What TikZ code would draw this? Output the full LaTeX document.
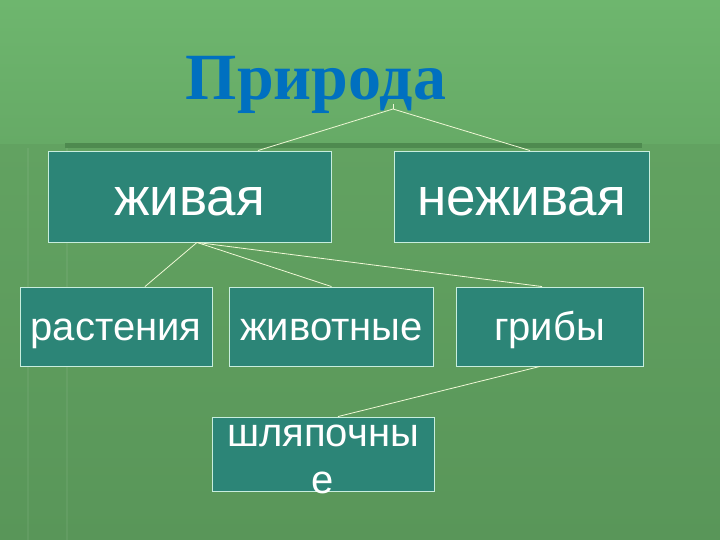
\documentclass[tikz,border=0pt]{standalone}
\usepackage{fontspec}
\setmainfont{Liberation Sans}
\newfontfamily\titlefont{Liberation Serif}
\usetikzlibrary{calc}

\definecolor{bgtop}{RGB}{110,182,110}
\definecolor{bgmid}{RGB}{102,170,102}
\definecolor{bglow}{RGB}{98,162,97}
\definecolor{bgbottom}{RGB}{89,150,89}
\definecolor{bandgreen}{RGB}{78,138,79}
\definecolor{boxteal}{RGB}{44,133,119}
\definecolor{boxedge}{RGB}{200,238,222}
\definecolor{linecream}{RGB}{240,248,214}
\definecolor{titleblue}{RGB}{0,112,192}

\begin{document}
\begin{tikzpicture}[
    x=1pt, y=-1pt,
  catbox/.style={rectangle, draw=boxedge, line width=0.9pt, fill=boxteal, text=white, inner sep=0pt, text depth=0pt},
  bigbox/.style={catbox, font=\fontsize{53}{58}\selectfont, text height=37pt},
  smallbox/.style={catbox, font=\fontsize{40}{45}\selectfont, text height=27pt},
  link/.style={draw=linecream, line width=0.8pt}
]

% Background
\useasboundingbox (0,0) rectangle (720,540);
\shade[top color=bgtop, bottom color=bgmid] (0,0) rectangle (720,145);
\shade[top color=bglow, bottom color=bgbottom] (0,145) rectangle (720,540);
\fill[bandgreen] (65,143) rectangle (642,148);
\draw[white, opacity=0.06, line width=2pt] (28,148) -- (28,540);
\draw[white, opacity=0.06, line width=2pt] (67,148) -- (67,540);

% Title
\node[font=\titlefont\bfseries\fontsize{66}{72}\selectfont, text=titleblue, anchor=base] (priroda) at (316,100) {Природа};
\coordinate (apex) at (393,109);
\draw[link] (393,104) -- (apex);

% Boxes
\node[bigbox, minimum width=283, minimum height=91] (zhivaya) at (189.5,196.5) {живая};
\node[bigbox, minimum width=255, minimum height=91] (nezhivaya) at (521.5,196.5) {неживая};
\node[smallbox, minimum width=192, minimum height=79] (rasteniya) at (116,326.5) {растения};
\node[smallbox, minimum width=204, minimum height=79] (zhivotnye) at (331.5,326.5) {животные};
\node[smallbox, minimum width=187, minimum height=79] (griby) at (549.5,326.5) {грибы};
\node[smallbox, minimum width=222, minimum height=74] (shlyapochnye) at (323,454) {};
\node[font=\fontsize{40}{47}\selectfont, text=white, align=center, anchor=north] (shlyaptext) at (323,421) {шляпочны\\е};

% Links
\draw[link] (apex) -- (zhivaya.north -| 258,0);
\draw[link] (apex) -- (nezhivaya.north -| 530,0);
\draw[link] (zhivaya.south -| 197,0) -- (rasteniya.north -| 145,0);
\draw[link] (zhivaya.south -| 197,0) -- (zhivotnye.north);
\draw[link] (zhivaya.south -| 197,0) -- (griby.north -| 542,0);
\draw[link] (griby.south -| 540,0) -- (shlyapochnye.north -| 338,0);

\end{tikzpicture}
\end{document}
